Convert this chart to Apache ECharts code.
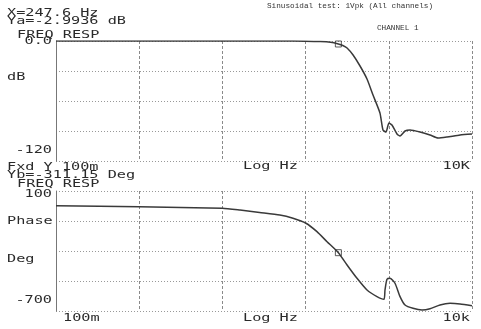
<!DOCTYPE html>
<html><head><meta charset="utf-8">
<script src="https://cdn.jsdelivr.net/npm/echarts@6/dist/echarts.min.js"></script>
<style>html,body{margin:0;padding:0;background:#fff}#c{width:481px;height:329px}</style>
</head><body><div id="c"></div>
<script>
// Magnitude response (Hz, dB)
const magFreq = [0.1, 1, 10, 50, 100, 150, 200, 247.6, 280, 315, 372, 451, 547, 646, 783, 851, 925, 1005, 1091, 1255, 1365, 1567, 1799, 2373, 3129, 3902, 5008, 7183, 10000];
const magDb   = [0, 0, 0, -0.05, -0.15, -0.5, -1.3, -2.99, -4.5, -7, -14, -25, -38, -54, -72, -89, -91, -82, -84, -93, -95, -90, -89, -91, -94, -97, -96, -94, -93];
// Phase response (Hz, deg)
const phaseFreq = [0.1, 1, 10, 16.3, 28, 49, 70.6, 101, 137, 181, 247.6, 315, 415, 547, 721, 875, 900, 951, 1033, 1187, 1365, 1567, 1955, 2507, 3129, 4121, 5441, 7183, 10000];
const phaseDeg  = [2, -5, -15, -27, -43, -60, -82, -115, -171, -238, -311.15, -393, -482, -560, -604, -622, -560, -488, -482, -515, -604, -660, -682, -693, -685, -660, -649, -653, -665];
// Cursor
const cursorFreq = 247.6;
const cursorMag = -2.9936;
const cursorPhase = -311.15;
// Axis ranges / tick labels
const magRange = [-120, 0];
const phaseRange = [-700, 100];
const freqRange = [0.1, 10000];

const chart = echarts.init(document.getElementById('c'), null, {renderer: 'canvas'});
const gridCol = '#8a8a8a';
function xAx(i) {
  return {type: 'log', logBase: 10, gridIndex: i, min: freqRange[0], max: freqRange[1],
    axisLine: {show: false}, axisTick: {show: false}, axisLabel: {show: false},
    splitLine: {show: true, lineStyle: {color: gridCol, width: 1, type: [3, 2]}}};
}
function yAx(i, r) {
  return {type: 'value', gridIndex: i, min: r[0], max: r[1], interval: (r[1] - r[0]) / 4,
    axisLine: {show: true, lineStyle: {color: '#777', width: 1}}, axisTick: {show: false}, axisLabel: {show: false},
    splitLine: {show: true, lineStyle: {color: '#999', width: 1, type: [1, 2]}}};
}
const mono = 'DejaVu Sans Mono';
function t(x, y, text, align, opt) {
  opt = opt || {};
  return {type: 'text', x: x, y: y, scaleX: opt.sx || 1.52, z: 10,
    style: {text: text, font: (opt.size || 10) + 'px "' + (opt.family || mono) + '"', fill: opt.fill || '#2a2a2a',
      align: align || 'left', verticalAlign: 'middle'}};
}
const serif = {family: 'Liberation Mono', size: 7.7, sx: 1, fill: '#333'};
chart.setOption({
  animation: false,
  backgroundColor: '#fff',
  grid: [
    {left: 56, top: 41, width: 416, height: 120},
    {left: 56, top: 191, width: 416, height: 120}
  ],
  xAxis: [xAx(0), xAx(1)],
  yAxis: [yAx(0, magRange), yAx(1, phaseRange)],
  series: [
    {type: 'line', xAxisIndex: 0, yAxisIndex: 0, showSymbol: false, smooth: 0.2,
      lineStyle: {color: '#3a3a3a', width: 1.5},
      data: magFreq.map((f, i) => [f, magDb[i]])},
    {type: 'line', xAxisIndex: 1, yAxisIndex: 1, showSymbol: false, smooth: 0.2,
      lineStyle: {color: '#3a3a3a', width: 1.5},
      data: phaseFreq.map((f, i) => [f, phaseDeg[i]])},
    {type: 'scatter', xAxisIndex: 0, yAxisIndex: 0, symbol: 'rect', symbolSize: 6, z: 5,
      itemStyle: {color: 'rgba(255,255,255,0)', borderColor: '#333', borderWidth: 1},
      data: [[cursorFreq, cursorMag]]},
    {type: 'scatter', xAxisIndex: 1, yAxisIndex: 1, symbol: 'rect', symbolSize: 6, z: 5,
      itemStyle: {color: 'rgba(255,255,255,0)', borderColor: '#333', borderWidth: 1},
      data: [[cursorFreq, cursorPhase]]}
  ],
  graphic: [
    t(7, 13.5, 'X=' + cursorFreq + ' Hz'),
    t(7, 21.5, 'Ya=' + cursorMag + ' dB'),
    t(17, 35, 'FREQ RESP'),
    t(52, 41.5, String(magRange[1].toFixed(1)), 'right'),
    t(7, 77, 'dB'),
    t(52, 150, String(magRange[0]), 'right'),
    t(7, 167, 'Fxd Y 100m'),
    t(243, 166, 'Log Hz'),
    t(470, 166, '10K', 'right'),
    t(7, 175, 'Yb=' + cursorPhase + ' Deg'),
    t(17, 184, 'FREQ RESP'),
    t(52, 194, String(phaseRange[1]), 'right'),
    t(7, 221.5, 'Phase'),
    t(7, 259.5, 'Deg'),
    t(52, 300.5, String(phaseRange[0]), 'right'),
    t(63, 318.5, '100m'),
    t(243, 318.5, 'Log Hz'),
    t(470, 318.5, '10k', 'right'),
    t(267, 6, 'Sinusoidal test: 1Vpk (All channels)', 'left', serif),
    t(377, 27.5, 'CHANNEL 1', 'left', serif)
  ]
});
</script></body></html>
